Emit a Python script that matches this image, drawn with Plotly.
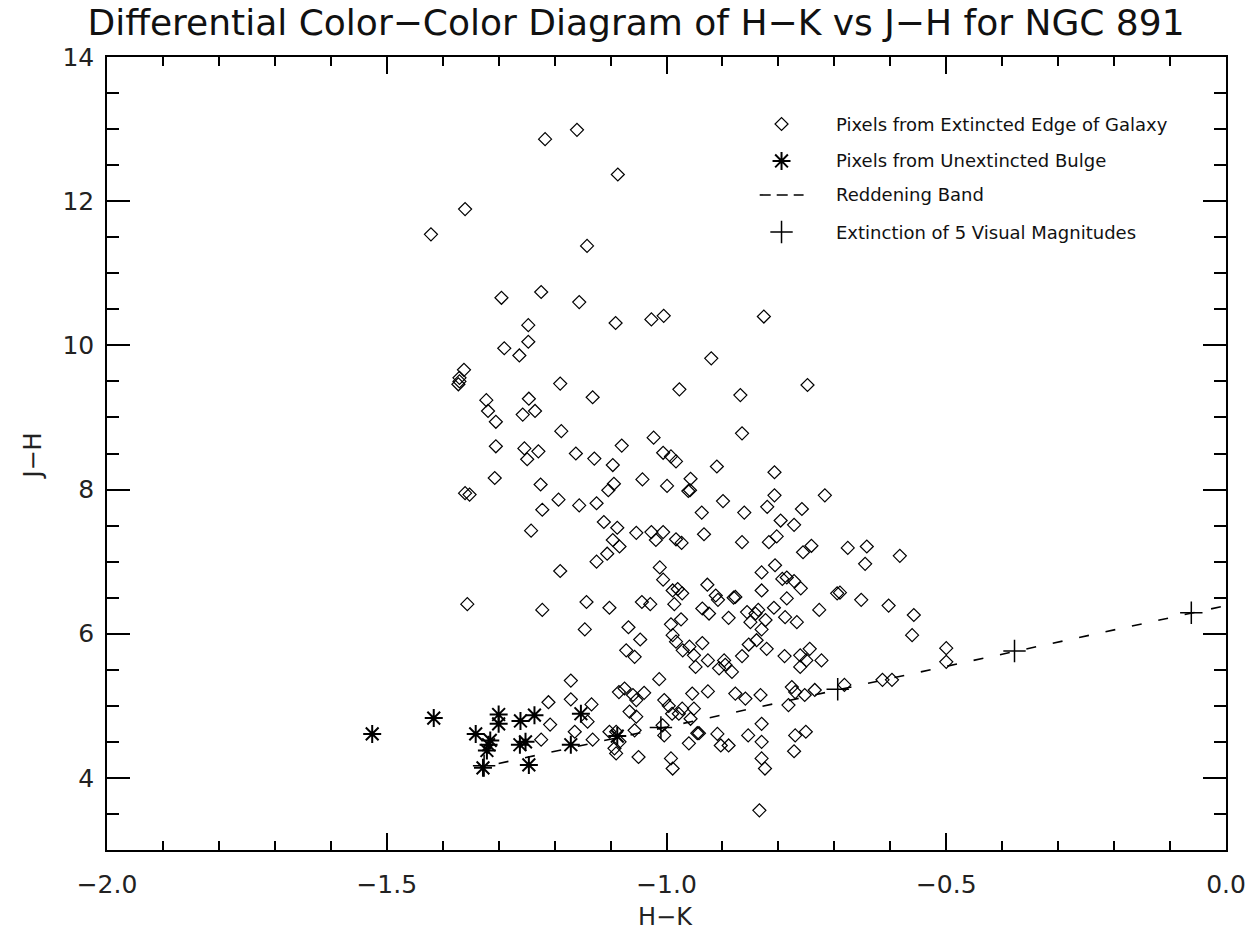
import plotly.graph_objects as go

# ---------------- data ----------------
edge_x = [
    -1.217, -1.160, -1.087, -1.360, -1.421, -1.142, -1.295, -1.224, -1.156, -1.091, -1.027, -1.005, -1.247, -1.247,
    -1.290, -1.263, -1.362, -1.370, -1.370, -1.372, -1.190, -1.132, -0.977, -1.322, -1.319, -1.305, -1.246, -1.257,
    -1.235, -1.188, -1.305, -1.254, -1.229, -1.249, -1.162, -1.129, -1.096, -1.080, -1.023, -1.006, -0.992, -0.983,
    -1.307, -1.360, -1.352, -1.225, -1.193, -1.222, -1.156, -1.125, -1.094, -1.104, -1.043, -0.999, -0.961, -0.958,
    -0.957, -0.937, -1.242, -1.112, -1.088, -1.096, -1.084, -1.106, -1.125, -1.054, -1.027, -1.019, -1.006, -0.983,
    -0.973, -0.933, -1.190, -1.012, -1.006,
    -0.826,
    -0.920, -0.748, -0.868, -0.865, -0.910, -0.807, -0.899, -0.861, -0.807, -0.820, -0.758, -0.717, -0.796, -0.772,
    -0.865, -0.817, -0.803, -0.756, -0.741, -0.676, -0.642, -0.645, -0.583, -0.806, -0.830, -0.793, -0.785, -0.772,
    -0.927,
    -0.830, -0.760, -0.695, -0.690, -0.652, -0.603, -0.558, -0.561, -0.500, -0.500, -0.912, -0.908, -0.880, -0.877,
    -0.936, -0.924, -0.889, -0.856, -0.841, -0.850, -0.836, -0.808, -0.823, -0.785, -0.788, -0.767, -0.727, -0.830,
    -0.839, -0.853, -0.821, -0.936, -0.865, -0.926, -0.895, -0.897, -0.906, -0.883, -0.789, -0.761, -0.744, -0.750,
    -0.761, -0.723, -0.926, -0.877, -0.859, -0.832, -0.782, -0.776, -0.770, -0.753, -0.735, -0.682, -0.614, -0.597,
    -0.830, -0.909, -0.903, -0.889, -0.854, -0.830, -0.830, -0.824, -0.770, -0.751, -0.772, -0.834, -0.942,
    -1.356, -1.222, -1.143, -1.102, -1.044, -1.029, -0.989, -0.972, -0.980, -0.986, -1.146, -1.068, -1.047, -1.072,
    -1.057, -0.992, -0.974, -0.989, -0.983, -0.971, -0.959, -0.951, -0.948, -1.171, -1.013, -1.211, -1.208, -1.171,
    -1.134, -1.141, -1.164, -1.224, -1.132, -1.085, -1.075, -1.060, -1.040, -1.054, -1.066, -1.054, -1.057, -1.102,
    -1.090, -1.084, -1.093, -1.090, -1.050, -1.004, -0.996, -0.990, -0.978, -0.972, -1.007, -1.004, -0.954, -0.951,
    -0.957, -0.945, -0.960, -0.992, -0.989,
]
edge_y = [
    12.86, 12.99, 12.37, 11.89, 11.54, 11.38, 10.66, 10.74, 10.60, 10.31, 10.36, 10.41, 10.28, 10.05,
    9.96, 9.86, 9.66, 9.55, 9.50, 9.46, 9.47, 9.28, 9.39, 9.24, 9.09, 8.94, 9.26, 9.04,
    9.09, 8.81, 8.60, 8.57, 8.53, 8.42, 8.50, 8.43, 8.34, 8.61, 8.72, 8.51, 8.46, 8.39,
    8.16, 7.95, 7.93, 8.07, 7.86, 7.72, 7.78, 7.81, 8.08, 7.99, 8.14, 8.05, 7.98, 7.99,
    8.15, 7.68, 7.43, 7.55, 7.47, 7.30, 7.21, 7.11, 7.00, 7.40, 7.41, 7.30, 7.41, 7.31,
    7.26, 7.38, 6.87, 6.92, 6.75,
    10.40,
    9.82, 9.45, 9.31, 8.78, 8.32, 8.24, 7.84, 7.68, 7.92, 7.76, 7.73, 7.92, 7.57, 7.51,
    7.27, 7.27, 7.35, 7.13, 7.22, 7.19, 7.21, 6.97, 7.08, 6.95, 6.85, 6.76, 6.78, 6.73,
    6.68,
    6.60, 6.63, 6.56, 6.57, 6.47, 6.39, 6.26, 5.98, 5.80, 5.61, 6.53, 6.47, 6.50, 6.51,
    6.35, 6.28, 6.22, 6.30, 6.28, 6.16, 6.33, 6.36, 6.19, 6.49, 6.23, 6.16, 6.33, 6.06,
    5.91, 5.85, 5.79, 5.87, 5.69, 5.63, 5.57, 5.63, 5.52, 5.47, 5.69, 5.70, 5.79, 5.63,
    5.54, 5.63, 5.20, 5.17, 5.10, 5.15, 5.01, 5.26, 5.19, 5.15, 5.22, 5.29, 5.36, 5.36,
    4.75, 4.61, 4.45, 4.45, 4.59, 4.50, 4.27, 4.13, 4.59, 4.64, 4.37, 3.55, 4.62,
    6.41, 6.33, 6.44, 6.36, 6.44, 6.41, 6.60, 6.56, 6.62, 6.41, 6.06, 6.09, 5.92, 5.77,
    5.68, 6.13, 6.20, 5.98, 5.89, 5.77, 5.82, 5.70, 5.54, 5.35, 5.37, 5.05, 4.74, 5.09,
    5.02, 4.78, 4.64, 4.53, 4.53, 5.19, 5.24, 5.15, 5.18, 5.08, 4.92, 4.85, 4.66, 4.64,
    4.64, 4.50, 4.41, 4.34, 4.29, 5.08, 5.00, 4.89, 4.89, 4.96, 4.73, 4.59, 5.17, 4.96,
    4.82, 4.62, 4.48, 4.27, 4.13,
]
bulge_x = [-1.526, -1.416, -1.341, -1.318, -1.321, -1.315, -1.300, -1.300, -1.328,
           -1.261, -1.236, -1.262, -1.252, -1.246, -1.153, -1.171, -1.088]
bulge_y = [4.61, 4.83, 4.61, 4.46, 4.38, 4.52, 4.88, 4.75, 4.14,
           4.79, 4.87, 4.46, 4.50, 4.18, 4.89, 4.46, 4.58]
band_x = [-1.30, 0.0]
band_y = [4.20, 6.39]
ext_x = [-1.326, -1.010, -0.694, -0.378, -0.062]
ext_y = [4.17, 4.70, 5.23, 5.76, 6.29]

x_tickvals = [-2.0, -1.5, -1.0, -0.5, 0.0]
x_ticktext = ["\u22122.0", "\u22121.5", "\u22121.0", "\u22120.5", "0.0"]
y_tickvals = [4, 6, 8, 10, 12, 14]
y_ticktext = ["4", "6", "8", "10", "12", "14"]

title_text = "Differential Color\u2212Color Diagram of H\u2212K vs J\u2212H for NGC 891"
x_title = "H\u2212K"
y_title = "J\u2212H"
legend_labels = ["Pixels from Extincted Edge of Galaxy",
                 "Pixels from Unextincted Bulge",
                 "Reddening Band",
                 "Extinction of 5 Visual Magnitudes"]

# ---------------- styles ----------------
FONT = "DejaVu Sans"
INK = "black"
diamond_style = dict(symbol="diamond-open", size=10, color=INK, line=dict(width=1.2, color=INK))
asterisk_style = dict(symbol="asterisk-open", size=15, color=INK, line=dict(width=2, color=INK))
plus_style = dict(symbol="cross-thin-open", size=16, color=INK, line=dict(width=1.5, color=INK))

fig = go.Figure()
fig.add_trace(go.Scatter(x=edge_x, y=edge_y, mode="markers", marker=diamond_style,
                         showlegend=False, cliponaxis=True))
fig.add_trace(go.Scatter(x=bulge_x, y=bulge_y, mode="markers", marker=asterisk_style,
                         showlegend=False))
fig.add_trace(go.Scatter(x=band_x, y=band_y, mode="lines",
                         line=dict(color=INK, width=1.6, dash="10px,17px"), showlegend=False))
fig.add_trace(go.Scatter(x=ext_x, y=ext_y, mode="markers", marker=plus_style, showlegend=False))

# ---- hand-drawn key in an overlay (paper-like) axis ----
key_x_sym = 0.6028
key_rows = [0.9155, 0.8689, 0.826, 0.7793]
key_x_text = 0.6498
fig.add_trace(go.Scatter(x=[key_x_sym], y=[key_rows[0]], mode="markers", marker=diamond_style,
                         xaxis="x2", yaxis="y2", showlegend=False))
fig.add_trace(go.Scatter(x=[key_x_sym], y=[key_rows[1]], mode="markers", marker=asterisk_style,
                         xaxis="x2", yaxis="y2", showlegend=False))
fig.add_trace(go.Scatter(x=[0.5833, 0.6225], y=[key_rows[2], key_rows[2]], mode="lines",
                         line=dict(color=INK, width=1.6, dash="11px,6px"),
                         xaxis="x2", yaxis="y2", showlegend=False))
fig.add_trace(go.Scatter(x=[key_x_sym], y=[key_rows[3]], mode="markers", marker=plus_style,
                         xaxis="x2", yaxis="y2", showlegend=False))
for lab, ry in zip(legend_labels, key_rows):
    fig.add_annotation(x=key_x_text, y=ry, xref="x2", yref="y2", text=lab, showarrow=False,
                       xanchor="left", yanchor="middle", font=dict(family=FONT, size=18, color="#111"))

axis_common = dict(showgrid=False, zeroline=False, showline=True, linecolor=INK, linewidth=1.5,
                   mirror="ticks", ticks="inside", tickcolor=INK, tickwidth=1.5,
                   tickfont=dict(family=FONT, size=25, color="#222"))

fig.update_layout(
    width=1258, height=932,
    margin=dict(l=107, r=23, t=57, b=82),
    paper_bgcolor="white", plot_bgcolor="white",
    title=dict(text=title_text, x=636 / 1258, xref="container", xanchor="center",
               y=1 - 22 / 932, yref="container", yanchor="middle",
               font=dict(family=FONT, size=36, color="#111")),
    xaxis=dict(range=[-2.0, 0.0], tickvals=x_tickvals, ticktext=x_ticktext, ticklen=17,
               ticklabelstandoff=11,
               minor=dict(dtick=0.1, tick0=0, ticklen=9, ticks="inside", tickcolor=INK, tickwidth=1.5),
               **axis_common),
    yaxis=dict(range=[3, 14], tickvals=y_tickvals, ticktext=y_ticktext, ticklen=23,
               ticklabelstandoff=6,
               minor=dict(dtick=0.5, tick0=0, ticklen=12, ticks="inside", tickcolor=INK, tickwidth=1.5),
               **axis_common),
    xaxis2=dict(range=[0, 1], overlaying="x", visible=False, domain=[0, 1], fixedrange=True),
    yaxis2=dict(range=[0, 1], overlaying="y", visible=False, domain=[0, 1], fixedrange=True),
)

fig.add_annotation(x=0.499, y=(850 - 917) / 793, xref="paper", yref="paper", text=x_title,
                   showarrow=False, xanchor="center", yanchor="middle",
                   font=dict(family=FONT, size=24, color="#222"))
fig.add_annotation(x=(32 - 107) / 1128, y=(850 - 456) / 793, xref="paper", yref="paper", text=y_title,
                   showarrow=False, textangle=-90, xanchor="center", yanchor="middle",
                   font=dict(family=FONT, size=24, color="#222"))

fig.write_html("out.html")
